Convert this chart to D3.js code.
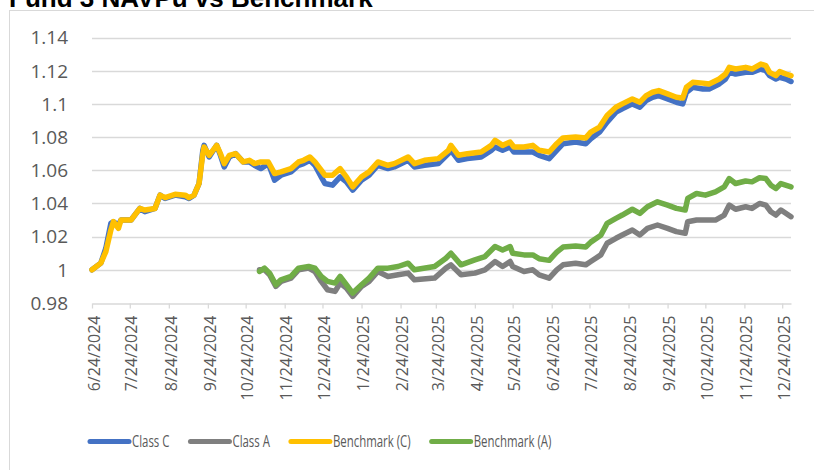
<!DOCTYPE html>
<html lang="en">
<head>
<meta charset="UTF-8">
<title>Fund 3 NAVPu vs Benchmark</title>
<script src="https://d3js.org/d3.v7.min.js"></script>
<style>
  body { margin: 0; background: #fff; }
  svg { display: block; }
</style>
</head>
<body>
<svg id="chart" width="814" height="470"></svg>
<script>
(function () {
  'use strict';

  // Class C and Benchmark (C) share these dates
  const cDates = ["2024-06-24","2024-07-01","2024-07-05","2024-07-09","2024-07-11","2024-07-15","2024-07-17","2024-07-25",
    "2024-08-01","2024-08-05","2024-08-13","2024-08-17","2024-08-21","2024-08-29","2024-09-06","2024-09-09","2024-09-13",
    "2024-09-17","2024-09-20","2024-09-21","2024-09-25","2024-10-01","2024-10-04","2024-10-07","2024-10-11","2024-10-16",
    "2024-10-22","2024-10-27","2024-10-31","2024-11-05","2024-11-11","2024-11-16","2024-11-21","2024-11-29","2024-12-05",
    "2024-12-09","2024-12-14","2024-12-18","2024-12-23","2024-12-26","2025-01-01","2025-01-07","2025-01-12","2025-01-17",
    "2025-01-24","2025-01-30","2025-02-06","2025-02-14","2025-02-19","2025-03-02","2025-03-07","2025-03-15","2025-03-26",
    "2025-04-03","2025-04-05","2025-04-11","2025-04-18","2025-04-29","2025-05-07","2025-05-10","2025-05-16","2025-05-22",
    "2025-05-25","2025-06-02","2025-06-09","2025-06-14","2025-06-22","2025-06-28","2025-07-03","2025-07-13","2025-07-21",
    "2025-07-25","2025-08-01","2025-08-07","2025-08-14","2025-08-19","2025-08-27","2025-09-02","2025-09-07","2025-09-12",
    "2025-09-17","2025-09-24","2025-10-01","2025-10-06","2025-10-09","2025-10-14","2025-10-22","2025-10-27","2025-11-04",
    "2025-11-09","2025-11-12","2025-11-17","2025-11-25","2025-11-30","2025-12-07","2025-12-11","2025-12-14","2025-12-19",
    "2025-12-22","2025-12-27","2025-12-31"];

  const classC = [1.000,1.004,1.013,1.028,1.029,1.027,1.030,1.030,1.037,1.035,1.037,1.045,1.043,1.045,1.044,1.043,1.045,
    1.052,1.072,1.075,1.068,1.075,1.069,1.062,1.068,1.070,1.065,1.065,1.063,1.061,1.064,1.054,1.057,1.059,1.063,
    1.064,1.066,1.063,1.056,1.052,1.051,1.056,1.053,1.048,1.054,1.057,1.063,1.061,1.062,1.066,1.062,1.063,1.064,
    1.070,1.072,1.066,1.067,1.068,1.072,1.074,1.072,1.074,1.071,1.071,1.071,1.069,1.067,1.072,1.076,1.077,1.076,
    1.079,1.083,1.089,1.095,1.097,1.100,1.098,1.102,1.104,1.105,1.103,1.101,1.100,1.107,1.110,1.109,1.109,1.112,
    1.115,1.119,1.118,1.119,1.119,1.121,1.120,1.117,1.115,1.116,1.115,1.1135];

  const benchC = [1.000,1.004,1.011,1.024,1.029,1.025,1.030,1.030,1.037,1.036,1.037,1.045,1.0435,1.0455,1.045,1.0435,1.045,
    1.052,1.070,1.074,1.069,1.075,1.070,1.064,1.069,1.070,1.065,1.066,1.064,1.065,1.065,1.058,1.059,1.061,1.065,
    1.066,1.068,1.065,1.060,1.057,1.057,1.061,1.056,1.050,1.056,1.059,1.065,1.063,1.064,1.068,1.064,1.066,1.067,
    1.072,1.075,1.069,1.070,1.071,1.075,1.078,1.075,1.077,1.074,1.074,1.075,1.072,1.071,1.076,1.0795,1.080,1.0795,
    1.083,1.086,1.093,1.098,1.100,1.103,1.101,1.105,1.107,1.108,1.106,1.104,1.1035,1.110,1.113,1.1125,1.112,1.115,
    1.118,1.122,1.121,1.122,1.121,1.124,1.123,1.119,1.117,1.1195,1.118,1.117];

  // Class A and Benchmark (A) start later
  const aDates = ["2024-11-04","2024-11-08","2024-11-12","2024-11-17","2024-11-21","2024-11-29","2024-12-05","2024-12-13",
    "2024-12-18","2024-12-23","2024-12-28","2025-01-03","2025-01-07","2025-01-12","2025-01-17","2025-01-24","2025-01-30",
    "2025-02-06","2025-02-14","2025-02-22","2025-03-02","2025-03-07","2025-03-23","2025-04-01","2025-04-05","2025-04-13",
    "2025-04-24","2025-05-02","2025-05-10","2025-05-16","2025-05-22","2025-05-24","2025-06-02","2025-06-09","2025-06-14",
    "2025-06-22","2025-06-28","2025-07-03","2025-07-13","2025-07-21","2025-07-25","2025-08-02","2025-08-07","2025-08-14",
    "2025-08-19","2025-08-27","2025-09-02","2025-09-08","2025-09-16","2025-09-24","2025-10-01","2025-10-08","2025-10-10",
    "2025-10-17","2025-10-24","2025-11-01","2025-11-08","2025-11-12","2025-11-17","2025-11-25","2025-11-30","2025-12-06",
    "2025-12-11","2025-12-15","2025-12-19","2025-12-23","2025-12-31"];

  const classA = [1.000,1.000,0.997,0.990,0.993,0.995,1.000,1.001,0.999,0.993,0.988,0.987,0.992,0.989,0.984,0.990,0.993,
    0.999,0.996,0.997,0.998,0.994,0.995,1.001,1.003,0.997,0.998,1.000,1.005,1.002,1.005,1.002,0.999,1.000,0.997,
    0.995,1.000,1.003,1.004,1.003,1.005,1.009,1.016,1.019,1.021,1.024,1.021,1.025,1.027,1.025,1.023,1.022,1.029,
    1.030,1.030,1.030,1.033,1.039,1.0365,1.038,1.037,1.040,1.039,1.035,1.033,1.036,1.032];

  const benchA = [0.999,1.001,0.998,0.991,0.994,0.996,1.001,1.002,1.001,0.996,0.993,0.992,0.996,0.991,0.986,0.991,0.995,
    1.001,1.001,1.002,1.004,1.000,1.002,1.007,1.010,1.003,1.006,1.008,1.014,1.012,1.014,1.010,1.009,1.009,1.0067,
    1.0057,1.0107,1.0137,1.0143,1.0137,1.0167,1.0208,1.028,1.031,1.033,1.0365,1.034,1.038,1.041,1.039,1.037,1.036,1.043,
    1.046,1.045,1.047,1.050,1.055,1.052,1.0535,1.053,1.0555,1.055,1.051,1.049,1.052,1.050];

  const tickLabels = ["6/24/2024","7/24/2024","8/24/2024","9/24/2024","10/24/2024","11/24/2024","12/24/2024",
    "1/24/2025","2/24/2025","3/24/2025","4/24/2025","5/24/2025","6/24/2025","7/24/2025","8/24/2025",
    "9/24/2025","10/24/2025","11/24/2025","12/24/2025"];
  const yTicks = [0.98, 1, 1.02, 1.04, 1.06, 1.08, 1.1, 1.12, 1.14];

  const seriesNames = ["Class C", "Class A", "Benchmark (C)", "Benchmark (A)"];
  const seriesColors = ["#4472C4", "#7F7F7F", "#FFC000", "#70AD47"];

  const parseIso = d3.timeParse("%Y-%m-%d");
  const parseTick = d3.timeParse("%m/%d/%Y");
  const fmtTick = d3.timeFormat("%-m/%-d/%Y");

  const svg = d3.select("#chart");
  const textColor = "#595959";
  const gridColor = "#D9D9D9";

  // chart area border
  svg.append("rect")
    .attr("x", 9.5).attr("y", 10.5)
    .attr("width", 830).attr("height", 480)
    .attr("fill", "#fff").attr("stroke", gridColor);

  // title (cut off at the top in the source)
  svg.append("text")
    .attr("x", 9).attr("y", 6.5)
    .style("font", "bold 26px 'Liberation Sans', Arial, sans-serif")
    .attr("fill", "#000")
    .text("Fund 3 NAVPu vs Benchmark");

  const x = d3.scaleTime()
    .domain([parseIso("2024-06-24"), parseIso("2025-12-31")])
    .range([92, 791]);
  const y = d3.scaleLinear().domain([0.98, 1.14]).range([303, 37.5]);

  // gridlines
  svg.append("g")
    .selectAll("line")
    .data(yTicks.slice(1))
    .join("line")
    .attr("x1", 92).attr("x2", 791)
    .attr("y1", d => Math.round(y(d)) + 0.5).attr("y2", d => Math.round(y(d)) + 0.5)
    .attr("stroke", gridColor).attr("stroke-width", 1.3);

  // y labels
  svg.append("g")
    .selectAll("text")
    .data(yTicks)
    .join("text")
    .attr("x", 68).attr("y", d => y(d))
    .attr("dy", "0.36em")
    .attr("text-anchor", "end")
    .attr("fill", textColor)
    .style("font", "19px 'Open Sans', sans-serif")
    .text(d => d3.format("")(d));

  // x axis
  const tickDates = tickLabels.map(parseTick);
  const xAxis = d3.axisBottom(x)
    .tickValues(tickDates)
    .tickSize(5)
    .tickSizeOuter(0)
    .tickFormat(fmtTick);

  const gx = svg.append("g")
    .attr("transform", `translate(0,${Math.round(y(0.98)) + 0.5})`)
    .call(xAxis);
  gx.select(".domain").attr("stroke", gridColor).attr("stroke-width", 1.3);
  gx.selectAll(".tick line").attr("stroke", gridColor).attr("stroke-width", 1.3);
  gx.selectAll(".tick text")
    .attr("fill", textColor)
    .style("font", "16px 'Open Sans', sans-serif")
    .attr("text-anchor", "end")
    .attr("transform", "translate(0,12) rotate(-90)")
    .attr("x", 0).attr("y", 0)
    .attr("dy", "0.45em");

  // lines
  const line = d3.line()
    .x(d => x(d.date))
    .y(d => y(d.value));

  const build = (dates, vals) => dates.map((d, i) => ({ date: parseIso(d), value: vals[i] }));
  const series = [
    build(cDates, classC),
    build(aDates, classA),
    build(cDates, benchC),
    build(aDates, benchA)
  ];

  svg.append("g")
    .selectAll("path")
    .data(series)
    .join("path")
    .attr("d", line)
    .attr("fill", "none")
    .attr("stroke", (d, i) => seriesColors[i])
    .attr("stroke-width", 5.5)
    .attr("stroke-linejoin", "round")
    .attr("stroke-linecap", "round");

  // legend - narrow text like the source
  const legend = svg.append("g").attr("transform", "translate(90,441.5)");
  const squeeze = 0.714;
  let lx = 0;
  seriesNames.forEach((name, i) => {
    legend.append("line")
      .attr("x1", lx).attr("x2", lx + 39)
      .attr("y1", 0).attr("y2", 0)
      .attr("stroke", seriesColors[i])
      .attr("stroke-width", 5)
      .attr("stroke-linecap", "round");
    const t = legend.append("text")
      .attr("transform", `translate(${lx + 42},0) scale(${squeeze},1)`)
      .attr("dy", "0.36em")
      .attr("fill", textColor)
      .style("font", "16px 'Open Sans', sans-serif")
      .text(name);
    lx += 42 + t.node().getComputedTextLength() * squeeze + 21;
  });
}());
</script>
</body>
</html>
